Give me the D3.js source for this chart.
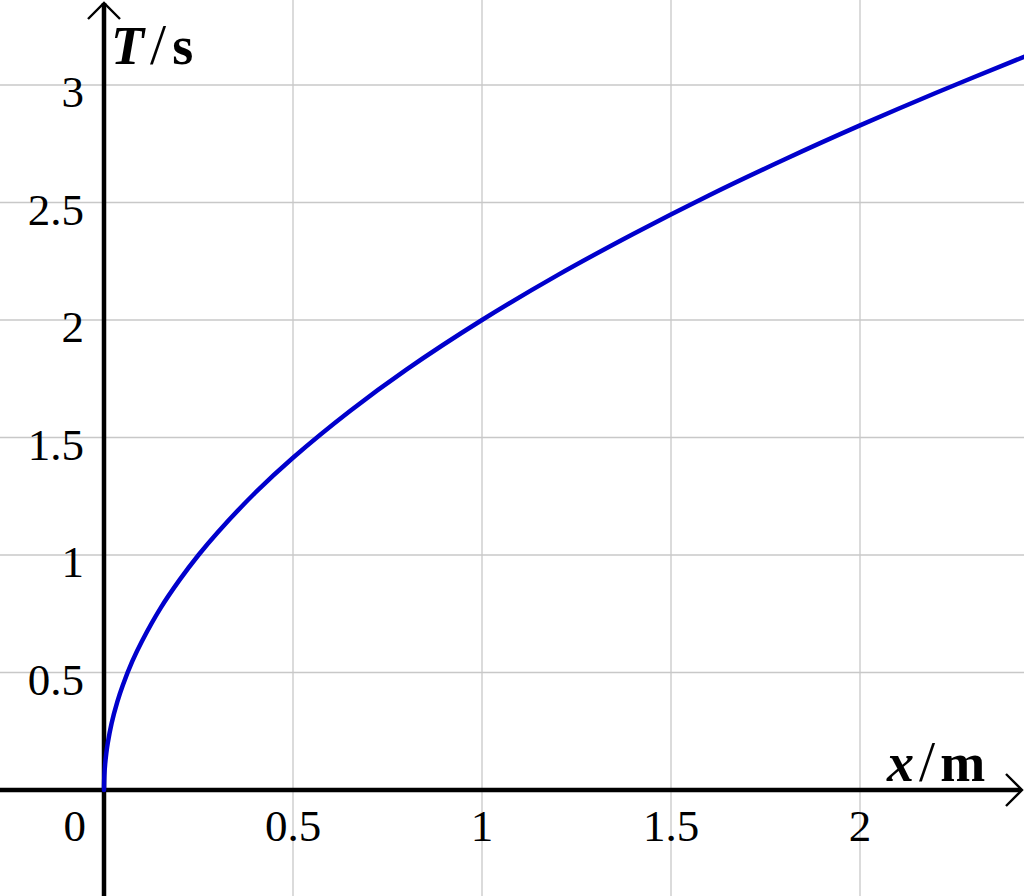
<!DOCTYPE html>
<html>
<head>
<meta charset="utf-8">
<script src="https://cdn.jsdelivr.net/npm/d3@7"></script>
<style>
  html, body { margin: 0; padding: 0; background: #fff; }
  svg { display: block; }
  text { font-family: "Liberation Serif", "DejaVu Serif", serif; fill: #000; }
</style>
</head>
<body>
<svg id="chart" width="1024" height="896"></svg>
<script>
// values
const xValues = [0, 0.001, 0.003, 0.006, 0.01, 0.02, 0.035, 0.05, 0.075, 0.1, 0.15, 0.2, 0.25, 0.3, 0.4, 0.5, 0.65, 0.8, 1, 1.2, 1.4, 1.6, 1.8, 2, 2.2, 2.434]
const tValues = [0, 0.063, 0.11, 0.155, 0.2, 0.283, 0.374, 0.447, 0.548, 0.632, 0.775, 0.894, 1, 1.095, 1.265, 1.414, 1.612, 1.789, 2, 2.191, 2.366, 2.53, 2.683, 2.828, 2.966, 3.12]
const xTicks = [0.5, 1, 1.5, 2]
const yTicks = [0.5, 1, 1.5, 2, 2.5, 3]
const xTickLabels = ["0.5", "1", "1.5", "2"]
const yTickLabels = ["0.5", "1", "1.5", "2", "2.5", "3"]

const width = 1024, height = 896
const svg = d3.select("#chart")

const x = d3.scaleLinear().domain([-104 / 378, 920 / 378]).range([0, width])
const y = d3.scaleLinear().domain([-106 / 235, 790 / 235]).range([height, 0])

const data = xValues.map((v, i) => [v, tValues[i]])

// grid
const grid = svg.append("g").attr("stroke", "#c8c8c8").attr("stroke-width", 1.3)
grid.selectAll("line.v")
    .data(xTicks)
    .enter()
    .append("line")
        .attr("x1", d => x(d)).attr("x2", d => x(d))
        .attr("y1", 0).attr("y2", height)
grid.selectAll("line.h")
    .data(yTicks)
    .enter()
    .append("line")
        .attr("x1", 0).attr("x2", width)
        .attr("y1", d => y(d)).attr("y2", d => y(d))

// axes
const axes = svg.append("g").attr("stroke", "#000").attr("stroke-width", 4.5).attr("fill", "none")
axes.append("line").attr("x1", 0).attr("x2", width - 3).attr("y1", y(0)).attr("y2", y(0))
axes.append("line").attr("x1", x(0)).attr("x2", x(0)).attr("y1", height).attr("y2", 3)

// arrow heads (open chevrons)
const arrows = svg.append("g").attr("stroke", "#000").attr("stroke-width", 2.4).attr("fill", "none")
arrows.append("path").attr("d", `M${width - 18},${y(0) - 16} L${width - 2},${y(0)} L${width - 18},${y(0) + 16}`)
arrows.append("path").attr("d", `M${x(0) - 16},${19} L${x(0)},${3} L${x(0) + 16},${19}`)

// curve
const line = d3.line()
    .x(d => x(d[0]))
    .y(d => y(d[1]))
    .curve(d3.curveCatmullRom.alpha(0.5))

svg.append("path")
    .datum(data)
    .attr("d", line)
    .attr("fill", "none")
    .attr("stroke", "#0000cc")
    .attr("stroke-width", 4.5)
    .attr("stroke-linecap", "round")

// tick labels
svg.append("g").selectAll("text")
    .data(xTicks)
    .enter()
    .append("text")
        .attr("x", d => x(d))
        .attr("y", 841)
        .attr("text-anchor", "middle")
        .attr("font-size", 45)
        .text((d, i) => xTickLabels[i])

svg.append("g").selectAll("text")
    .data(yTicks)
    .enter()
    .append("text")
        .attr("x", 84)
        .attr("y", d => y(d) + 22)
        .attr("text-anchor", "end")
        .attr("font-size", 45)
        .text((d, i) => yTickLabels[i])

svg.append("text")
    .attr("x", 86).attr("y", 841)
    .attr("text-anchor", "end")
    .attr("font-size", 45)
    .text("0")

// axis titles
const tTitle = svg.append("text").attr("x", 111).attr("y", 64).attr("font-size", 54)
tTitle.append("tspan").attr("font-weight", "bold").attr("font-style", "italic").text("T")
tTitle.append("tspan").attr("dx", 6).attr("font-size", 58).text("/")
tTitle.append("tspan").attr("dx", 6).attr("font-weight", "bold").text("s")

const xTitle = svg.append("text").attr("x", 887).attr("y", 781).attr("font-size", 54)
xTitle.append("tspan").attr("font-weight", "bold").attr("font-style", "italic").text("x")
xTitle.append("tspan").attr("dx", 5).attr("font-size", 58).text("/")
xTitle.append("tspan").attr("font-weight", "bold").attr("dx", 5).text("m")
</script>
</body>
</html>
